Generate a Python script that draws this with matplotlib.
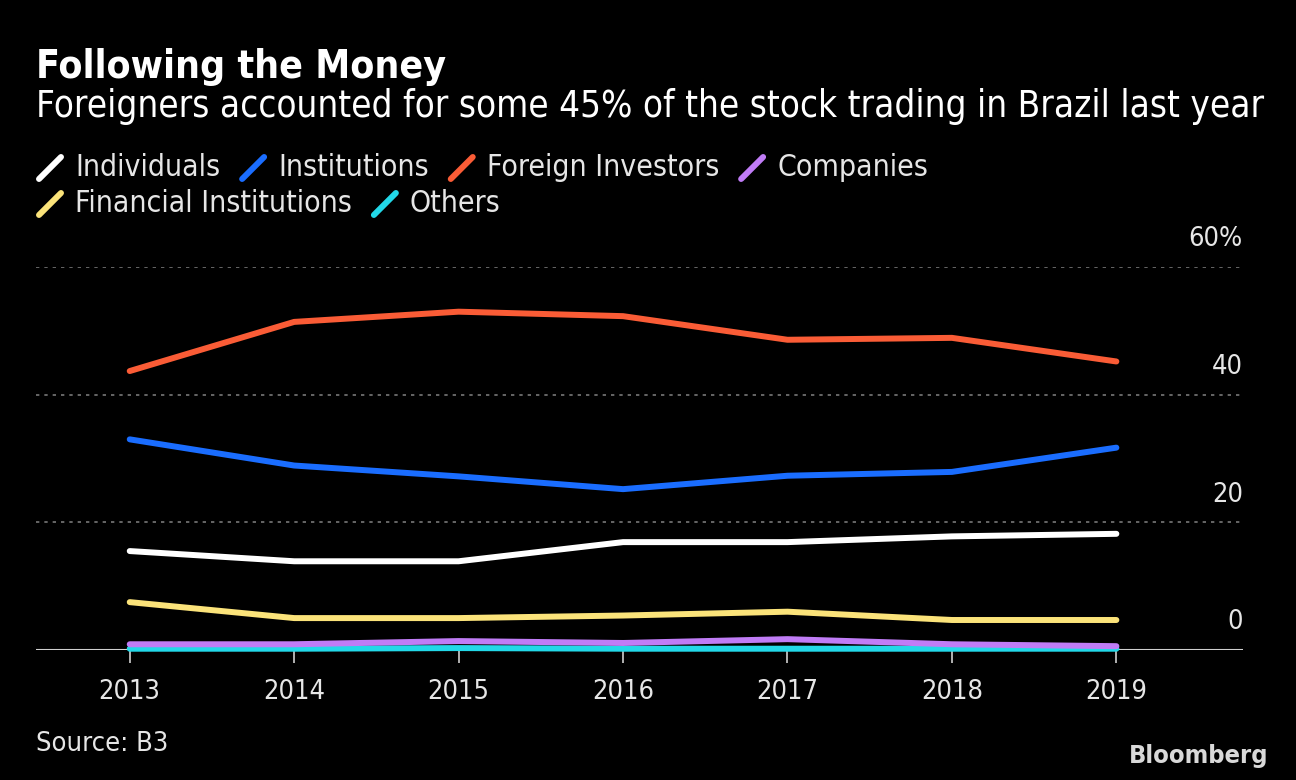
import numpy as np
import matplotlib
matplotlib.use("Agg")
import matplotlib.pyplot as plt
from matplotlib.lines import Line2D

# --- Data (share of B3 stock trading, %) ---
years = [2013, 2014, 2015, 2016, 2017, 2018, 2019]
individuals = [15.5, 13.9, 13.9, 16.9, 16.9, 17.8, 18.2]
institutions = [33.0, 28.9, 27.2, 25.2, 27.3, 27.9, 31.7]
foreign = [43.7, 51.4, 53.0, 52.3, 48.6, 48.9, 45.2]
companies = [0.9, 0.9, 1.4, 1.1, 1.7, 0.9, 0.6]
financial = [7.5, 5.0, 5.0, 5.4, 6.0, 4.7, 4.7]
others = [0.2, 0.2, 0.3, 0.2, 0.2, 0.2, 0.2]

series_names = ["Individuals", "Institutions", "Foreign Investors", "Companies",
                "Financial Institutions", "Others"]
y_ticks = [0, 20, 40, 60]
y_tick_labels = ["0", "20", "40", "60%"]

# --- Style ---
BG = "#000000"
FG = "#e6e6e6"
colors = ["#ffffff", "#1a6dff", "#fa5c36", "#c07cf6", "#fbe37a", "#22d8e8"]
plt.rcParams["font.family"] = ["DejaVu Sans"]
plt.rcParams["font.stretch"] = "condensed"

W, H = 1296, 780
fig = plt.figure(figsize=(W / 100, H / 100), dpi=100, facecolor=BG)
fig.canvas.draw()
renderer = fig.canvas.get_renderer()


def fx(px):
    return px / W


def fy(py):
    return 1 - py / H


def fit(t, target_px):
    # shrink/grow font so the text spans target_px
    w = t.get_window_extent(renderer).width
    t.set_fontsize(t.get_fontsize() * target_px / w)
    return t


# plot area: x from 36 to 1243 px, y from 267 (60) to 650 (0)
ax = fig.add_axes([fx(36), fy(650), fx(1243 - 36), (650 - 267) / H])
ax.set_facecolor(BG)
ax.set_xlim(2012.43, 2019.77)
ax.set_ylim(0, 60)

for v in y_ticks[1:]:
    ax.axhline(v, color="#777777", lw=1.2, ls=(0, (2, 3)), zorder=1)
ax.axhline(0, color="#cfcfcf", lw=1.5, zorder=1)

all_series = [individuals, institutions, foreign, companies, financial, others]
z = [5, 5, 5, 4, 5, 3]
for vals, c, zz in zip(all_series, colors, z):
    ax.plot(years, vals, color=c, lw=4.3, solid_capstyle="round",
            solid_joinstyle="round", zorder=zz, clip_on=False)

for s in ax.spines.values():
    s.set_visible(False)
ax.set_yticks([])
ax.set_xticks(years)
probe = fig.text(0, 0, "2013", fontsize=20)
fit(probe, 62)
tick_fs = probe.get_fontsize()
probe.remove()
ax.set_xticklabels([str(y) for y in years], fontsize=tick_fs, color=FG)
ax.tick_params(axis="x", colors="#cfcfcf", length=9, width=1.2, pad=12,
               labelcolor=FG)

# y tick labels on right, above gridlines
for v, lab in zip(y_ticks, y_tick_labels):
    ax.text(1.0, v + 2.3, lab, transform=ax.get_yaxis_transform(),
            ha="right", va="bottom", fontsize=tick_fs, color=FG)

# --- Titles ---
t1 = fig.text(fx(36), fy(78), "Following the Money", fontsize=27, fontweight="bold",
              color="#ffffff", va="baseline", ha="left")
fit(t1, 410)
t2 = fig.text(fx(36), fy(117), "Foreigners accounted for some 45% of the stock trading in Brazil last year",
              fontsize=28, color="#ffffff", va="baseline", ha="left")
fit(t2, 1226)

# --- Legend with slash markers ---
probe = fig.text(0, 0, "Individuals", fontsize=20)
fit(probe, 146)
leg_fs = probe.get_fontsize()
probe.remove()
rows = [[0, 1, 2, 3], [4, 5]]
row_y = [168, 204]
for row, ry in zip(rows, row_y):
    x = 39
    for i in row:
        fig.add_artist(Line2D([fx(x), fx(x + 22)], [fy(ry + 11), fy(ry - 11)],
                              color=colors[i], lw=4.3, solid_capstyle="round",
                              transform=fig.transFigure))
        t = fig.text(fx(x + 36), fy(ry), series_names[i], fontsize=leg_fs, color=FG,
                     va="center", ha="left")
        bb = t.get_window_extent(renderer)
        x = bb.x1 + 22

# --- Footer ---
src = fig.text(fx(36), fy(751), "Source: B3", fontsize=18, color=FG, va="baseline", ha="left")
fit(src, 132)
bl = fig.text(fx(1268), fy(763), "Bloomberg", fontsize=20, fontweight="bold", color="#d9d9d9",
              va="baseline", ha="right")
fit(bl, 140)

fig.savefig("out.png", dpi=100, facecolor=BG)
